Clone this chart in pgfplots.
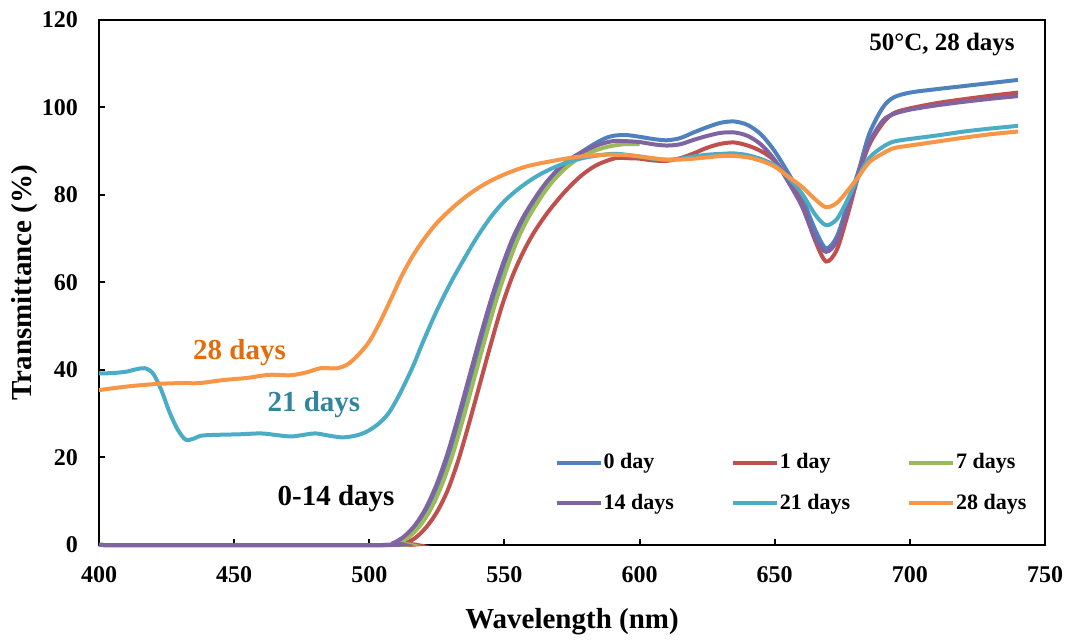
\documentclass[border=0pt]{standalone}
\usepackage{fontspec}
\setmainfont{Liberation Serif}
\usepackage{pgfplots}
\pgfplotsset{compat=1.18}
\definecolor{cBlue}{HTML}{4F81BD}
\definecolor{cRed}{HTML}{C0504D}
\definecolor{cGreen}{HTML}{9BBB59}
\definecolor{cPurple}{HTML}{8064A2}
\definecolor{cCyan}{HTML}{4BACC6}
\definecolor{cOrange}{HTML}{F79646}
\definecolor{tOrange}{HTML}{E46C0A}
\definecolor{tCyan}{HTML}{31859C}
\begin{document}
\begin{tikzpicture}
\begin{axis}[
  scale only axis,
  width=473pt, height=262.5pt,
  xmin=400, xmax=750, ymin=0, ymax=120,
  xtick={400,450,...,750}, ytick={0,20,...,120},
  xtick pos=bottom, ytick pos=left,
  tick align=inside, major tick length=3pt,
  axis line style={line width=1pt},
  every tick/.style={black, line width=1pt},
  /pgf/number format/assume math mode=true,
  /pgf/number format/set thousands separator={},
  ticklabel style={font=\fontsize{12}{14}\selectfont\bfseries},
  xticklabel style={yshift=-7pt},
  yticklabel style={xshift=-7pt},
  xlabel={Wavelength (nm)},
  ylabel={Transmittance (\%)},
  label style={font=\fontsize{14.5}{17}\selectfont\bfseries},
  xlabel style={at={(axis description cs:0.5,-0.1467)}, anchor=center},
  ylabel style={at={(axis description cs:-0.0782,0.5)}, anchor=center, rotate=0},
  clip=false,
  legend columns=3,
  legend style={draw=none, fill=none, at={(axis cs:566.2,22.1)}, anchor=north west,
    font=\fontsize{11}{13}\selectfont\bfseries,
    nodes={inner sep=0.5pt}, row sep=10pt,
    /tikz/every even column/.append style={column sep=28pt}},
  legend cell align=left,
  legend image code/.code={\draw[#1, line width=2pt] (0pt,0pt) -- (22pt,0pt);},
  every axis plot/.append style={line width=2pt, smooth, tension=0.5, no marks},
]
\addplot[cBlue] coordinates {
(400,0)(506,0)(510,0.5)(514,2)(518,4.6)(522,8.5)(526,14)(530,21)(534,29.5)(538,38.5)(542,47.5)(546,56)(550,63.5)(554,70)(558,75)(562,79)(566,82.5)(571,86)(576,88.7)(581,90.8)(586,92.6)(590,93.5)(595,93.7)(600,93.3)(605,92.8)(610,92.5)(615,93)(620,94.3)(625,95.5)(630,96.5)(635,96.8)(640,96)(645,93.8)(650,90)(655,85)(660,79.5)(665,72)(669,67.8)(673,70.5)(677,78)(681,85.5)(685,94)(690,100)(694,102.3)(700,103.4)(710,104.2)(720,104.9)(730,105.6)(740,106.3)};
\addlegendentry{0 day}
\addplot[cRed] coordinates {
(400,0)(509,0)(513,0.4)(517,1.6)(521,4)(525,7.5)(529,12.5)(533,19.5)(537,28)(541,37)(545,46)(549,54.5)(553,61.5)(557,67)(561,71.5)(566,76)(572,80.5)(578,84.2)(584,86.8)(591,88.4)(596,88.4)(600,88.3)(605,87.9)(610,87.8)(615,88.4)(620,89.5)(625,90.8)(630,91.7)(635,92)(640,91.3)(645,90)(650,87.8)(655,83.5)(660,78)(665,69.5)(669,64.8)(673,67.5)(677,75.5)(681,84.5)(685,91.5)(690,96.4)(694,98.7)(700,99.8)(710,101)(720,101.9)(730,102.7)(740,103.4)};
\addlegendentry{1 day}
\addplot[cGreen] coordinates {
(400,0)(507,0)(511,0.5)(515,2)(519,4.6)(523,8.5)(527,14)(531,21)(535,29.5)(539,38.5)(543,47.5)(547,56)(551,63.5)(555,70)(559,75)(563,79)(567,82.5)(572,85.8)(577,88.2)(582,89.8)(588,91)(594,91.6)(600,91.6)};
\addlegendentry{7 days}
\addplot[cPurple] coordinates {
(400,0)(505,0)(509,0.5)(513,2)(517,4.6)(521,8.5)(525,14)(529,21)(533,29.5)(537,38.5)(541,47.5)(545,56)(549,63.5)(553,70)(557,75)(561,79)(565,82.5)(570,86)(575,88.5)(580,90.2)(585,91.5)(590,92.3)(595,92.3)(600,92.1)(605,91.6)(610,91.3)(615,91.6)(620,92.6)(625,93.5)(630,94.2)(635,94.3)(640,93.5)(645,91.5)(650,88)(655,83)(660,77.5)(665,70)(669,67)(673,69.5)(677,77)(681,85)(685,92)(690,97)(694,98.5)(700,99.5)(710,100.5)(720,101.3)(730,102)(740,102.6)};
\addlegendentry{14 days}
\addplot[cCyan] coordinates {
(400,39.2)(405,39.3)(410,39.6)(414,40.2)(417,40.4)(420,39.2)(423,35.5)(426,30.5)(429,26.5)(432,24.1)(435,24.3)(438,25.0)(445,25.2)(452,25.3)(460,25.5)(466,25.1)(471,24.8)(475,25.1)(480,25.5)(485,25.0)(490,24.6)(495,25.0)(499,25.9)(503,27.5)(507,30.0)(511,34.2)(516,40.6)(520,46.6)(525,53.6)(530,59.8)(535,65.3)(540,70.5)(545,75.0)(550,78.6)(556,81.8)(562,84.3)(568,86.2)(574,87.6)(581,88.7)(590,89.4)(595,89.2)(600,88.8)(605,88.3)(610,88.0)(615,88.3)(620,88.8)(625,89.2)(630,89.4)(635,89.5)(640,89.1)(645,88.2)(650,86.8)(655,84)(660,80.4)(665,75.5)(669,73.1)(673,74.5)(677,79)(681,84.2)(685,88.5)(690,91)(694,92.2)(700,92.8)(710,93.6)(720,94.5)(730,95.2)(740,95.8)};
\addlegendentry{21 days}
\addplot[cOrange] coordinates {
(400,35.4)(410,36.2)(421,36.8)(430,37.0)(437,37.0)(446,37.7)(455,38.2)(463,38.9)(471,38.8)(477,39.5)(482,40.4)(488,40.4)(492,41.3)(496,43.5)(500,46.5)(504,51)(508,56.2)(512,61.5)(516,66)(520,69.7)(525,73.6)(531,77.2)(537,80.2)(543,82.6)(549.6,84.6)(558,86.5)(568,87.8)(577,88.7)(587,89.2)(595,89.1)(600,88.8)(605,88.4)(610,88.1)(615,88.1)(620,88.3)(625,88.6)(630,88.9)(635,88.9)(640,88.6)(645,87.8)(650,86.5)(655,84.2)(660,81.9)(665,79)(669,77.2)(673,78.2)(677,81)(681,84.2)(685,87.5)(690,89.5)(694,90.7)(700,91.3)(710,92.2)(720,93.1)(730,93.9)(740,94.5)};
\addlegendentry{28 days}
\node[font=\fontsize{14.5}{17}\selectfont\bfseries, text=tOrange] at (axis cs:452,43.9) {28 days};
\node[font=\fontsize{14.5}{17}\selectfont\bfseries, text=tCyan] at (axis cs:479.5,32) {21 days};
\node[font=\fontsize{14.5}{17}\selectfont\bfseries] at (axis cs:487.7,10.5) {0-14 days};
\node[font=\fontsize{12.5}{15}\selectfont\bfseries] at (axis cs:711.9,114.3) {50°C, 28 days};
\end{axis}
\path[draw=none] ([xshift=-49.5pt,yshift=-48pt]current axis.south west) rectangle ([xshift=12.5pt,yshift=10pt]current axis.north east);
\end{tikzpicture}
\end{document}
